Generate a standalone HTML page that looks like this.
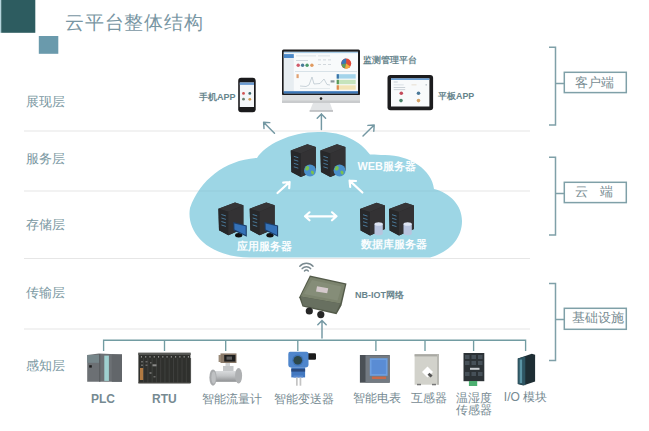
<!DOCTYPE html>
<html><head><meta charset="utf-8"><style>
html,body{margin:0;padding:0;background:#fff;width:649px;height:431px;overflow:hidden}
svg{position:absolute;left:0;top:0;font-family:"Liberation Sans",sans-serif}
</style></head><body>
<svg width="649" height="431" viewBox="0 0 649 431">
<defs>
  <marker id="ah" viewBox="0 0 10 10" refX="8" refY="5" markerWidth="5" markerHeight="5" orient="auto">
    <path d="M0,0 L10,5 L0,10" fill="none" stroke="#6f94a0" stroke-width="2"/>
  </marker>

  <g id="srv">
    <path d="M0,6.2 L16.6,0 L25,2.7 L25,26.3 L10,32.7 L0.6,27.8 Z" fill="#2a2a2c"/>
    <path d="M0,6.2 L16.6,0 L25,2.7 L10,9.3 Z" fill="#363638"/>
    <path d="M0,6.2 L10,9.3 L10,32.7 L0.6,27.8 Z" fill="#27282a"/>
    <path d="M10,9.3 L25,2.7 L25,26.3 L10,32.7 Z" fill="#333234"/>
    <g stroke="#4a7898" stroke-width="1">
      <line x1="3" y1="12" x2="7.5" y2="13.4"/>
      <line x1="3" y1="15.5" x2="7.5" y2="16.9"/>
      <line x1="3" y1="19" x2="7.5" y2="20.4"/>
      <line x1="3" y1="22.5" x2="7.5" y2="23.9"/>
    </g>
  </g>
</defs>
<!-- header squares -->
<rect x="0" y="0" width="1.2" height="32.8" fill="#b4d4dc"/><rect x="1.2" y="0" width="34.1" height="32.8" fill="#2d5c60"/>
<rect x="38.8" y="36" width="19.5" height="17.8" fill="#6a9aac"/>
<text x="65.4" y="28.9" font-size="19" letter-spacing="0.7" fill="#7896a3">云平台整体结构</text>

<!-- horizontal separators -->
<g stroke="#e6e6e6" stroke-width="1.2">
  <line x1="24" y1="131" x2="530" y2="131"/>
  <line x1="24" y1="191" x2="530" y2="191"/>
  <line x1="24" y1="258.5" x2="530" y2="258.5"/>
  <line x1="24" y1="329" x2="530" y2="329"/>
</g>

<!-- layer labels -->
<g font-size="12.8" fill="#7a98a2">
  <text x="26.4" y="106">展现层</text>
  <text x="26.4" y="163.3">服务层</text>
  <text x="26.4" y="229">存储层</text>
  <text x="26.4" y="297">传输层</text>
  <text x="26.4" y="370">感知层</text>
</g>

<!-- brackets -->
<g stroke="#7fa0a8" stroke-width="1.5" fill="none">
  <path d="M549,47.3 H555.5 V125 H549 M555.5,83.4 H564.3"/>
  <rect x="564.3" y="72.3" width="62" height="20.3"/>
  <path d="M549,157.3 H555.5 V235 H549 M555.5,193.4 H564.3"/>
  <rect x="564.3" y="182.3" width="62" height="20.3"/>
  <path d="M549,283.6 H555.5 V360.5 H549 M555.5,319.5 H564.3"/>
  <rect x="564.3" y="308.3" width="62" height="21"/>
</g>
<g font-size="12.7" fill="#788c92">
  <text x="575.3" y="86.6">客户端</text>
  <text x="574.8" y="196">云<tspan x="600.2">端</tspan></text>
  <text x="571.6" y="322">基础设施</text>
</g>

<!-- cloud -->
<clipPath id="cc"><path d="M250,257.5 L430,257.5 C450,252 462,238 462,221 C462,205 450,193 434,189 C432,170 410,155 385,155 C378,155 372,154 370,154.6 C360,140 340,131 318,132 C290,132 265,145 257,158 C225,160 200,180 190,208 C186,230 205,257 250,257.5 Z"/></clipPath>
<path fill="#9dd6e5" d="M250,257.5 L430,257.5 C450,252 462,238 462,221 C462,205 450,193 434,189 C432,170 410,155 385,155 C378,155 372,154 370,154.6 C360,140 340,131 318,132 C290,132 265,145 257,158 C225,160 200,180 190,208 C186,230 205,257 250,257.5 Z"/>


<!-- ============ top devices ============ -->
<!-- phone -->
<rect x="238.2" y="77.7" width="17.5" height="34.6" rx="3" fill="#1a1a1c"/>
<rect x="239.8" y="82.5" width="14.2" height="24.5" fill="#f4f6f8"/>
<rect x="239.8" y="82.5" width="14.2" height="2.4" fill="#6a9ad0"/>
<g><circle cx="243.5" cy="93.4" r="1.4" fill="#d05050"/><circle cx="249.8" cy="93.4" r="1.4" fill="#3d6a70"/><circle cx="243.5" cy="99.2" r="1.4" fill="#6a8070"/><circle cx="249.8" cy="99.3" r="1.4" fill="#d09a50"/></g>
<text x="199" y="100" font-size="9" font-weight="bold" fill="#66848c">手机APP</text>

<!-- iMac -->
<rect x="282" y="49.6" width="78" height="46" rx="1.5" fill="#1c1c1e"/>
<rect x="283.8" y="51.8" width="74.2" height="41.5" fill="#f8fafb"/>
<rect x="283.8" y="51.8" width="74.2" height="1.3" fill="#a8cce6"/>
<rect x="283.8" y="53.1" width="10" height="38.5" fill="#e7edf1"/>
<rect x="283.8" y="54.1" width="10" height="3.9" fill="#4a88c8"/>
<rect x="296" y="55.5" width="20" height="0.8" fill="#d4dce2"/>
<rect x="318" y="55.5" width="12" height="0.8" fill="#d4dce2"/>
<rect x="296" y="60" width="12" height="0.8" fill="#c8d0d8"/>
<g><circle cx="298.2" cy="65.3" r="1.7" fill="#d05a6a"/><circle cx="302.6" cy="65.3" r="1.7" fill="#4a7a98"/><circle cx="307.1" cy="65.3" r="1.7" fill="#4a9a6a"/><circle cx="311.9" cy="65.3" r="1.7" fill="#e09a60"/></g>
<g fill="#c8d0d6"><rect x="318" y="59.5" width="3" height="0.8"/><rect x="323" y="59.5" width="3" height="0.8"/><rect x="328" y="59.5" width="3" height="0.8"/><rect x="318" y="64" width="3" height="0.8"/><rect x="323" y="64" width="3" height="0.8"/><rect x="328" y="64" width="3" height="0.8"/></g>
<rect x="295" y="71.2" width="62" height="0.8" fill="#d0dde4"/>
<rect x="296.5" y="74.2" width="2.2" height="3.9" fill="#e0a070"/>
<path d="M300,86 L306,86.5 L309,85 L312,77 L314,84 L320,83.5 L324,79 L327,84.5 L330,85" fill="none" stroke="#b4c2ca" stroke-width="0.7"/>
<rect x="300" y="88" width="30" height="0.6" fill="#d8e0e4"/>
<circle cx="346.2" cy="63.6" r="5" fill="#e04a3a"/>
<path d="M346.2,63.6 L346.2,58.6 A5,5 0 0 0 341.3,64.6 Z" fill="#3a78b8"/>
<path d="M346.2,63.6 L341.3,64.6 A5,5 0 0 0 345,68.5 Z" fill="#5aa060"/>
<path d="M346.2,63.6 L345,68.5 A5,5 0 0 0 350.2,66.6 Z" fill="#f0b040"/>
<rect x="330.6" y="80.3" width="3.9" height="2.2" fill="#8a969c"/>
<rect x="336.7" y="74.2" width="19" height="4.4" fill="#a4d4ea"/>
<rect x="336.7" y="79.8" width="19" height="4.4" fill="#c6e4bc"/>
<rect x="336.7" y="85.3" width="19" height="4.4" fill="#f2e4b6"/>
<rect x="336.7" y="74.2" width="2.2" height="4.4" fill="#3a74a8"/>
<rect x="336.7" y="79.8" width="2.2" height="4.4" fill="#5a9a5a"/>
<rect x="336.7" y="85.3" width="2.2" height="4.4" fill="#e08a50"/>
<rect x="283.8" y="91.2" width="74.2" height="2.3" fill="#3a76b6"/>
<rect x="282" y="95" width="78" height="8" fill="#dcdedf"/>
<rect x="282" y="100.5" width="78" height="2.5" fill="#c9cbcd"/>
<circle cx="321" cy="98.6" r="1.3" fill="#222"/>
<path d="M313,103 L330,103 L333,111.2 L309.6,111.2 Z" fill="#e2e4e6"/>
<rect x="309.6" y="110.3" width="23.4" height="1.4" fill="#b4b6b8"/>
<text x="363.3" y="63" font-size="8.5" font-weight="bold" fill="#66848c">监测管理平台</text>

<!-- tablet -->
<rect x="387.5" y="75" width="45.6" height="35.2" rx="3" fill="#1c1c1e"/>
<rect x="391" y="78.4" width="38.4" height="28.1" fill="#f8fafb"/>
<rect x="391" y="78.4" width="38.4" height="1.5" fill="#5a96d2"/>
<rect x="393.7" y="81.6" width="4" height="0.8" fill="#b8c4cc"/>
<rect x="393.7" y="84.3" width="10" height="1.1" fill="#dde3e8"/>
<rect x="411.5" y="84.3" width="5" height="1.1" fill="#e8e0d4"/>
<rect x="425.5" y="84.3" width="1.5" height="1.1" fill="#b0b8c0"/>
<rect x="393.7" y="87.2" width="11.5" height="0.8" fill="#c0c8d0"/>
<rect x="393.7" y="89.3" width="11.5" height="0.8" fill="#c0c8d0"/>
<g><circle cx="401.3" cy="93.3" r="1.8" fill="#c44a5a"/><circle cx="418.5" cy="93.3" r="1.8" fill="#4a7898"/><circle cx="401" cy="100.6" r="1.8" fill="#4a826a"/><circle cx="418.5" cy="100.6" r="1.8" fill="#d6a468"/></g>
<text x="438" y="98.8" font-size="8.9" font-weight="bold" fill="#66848c">平板APP</text>

<!-- arrows top -->
<g stroke="#7498a3" stroke-width="1.45" fill="none" stroke-linecap="round" stroke-linejoin="round">
  <path d="M274.5,133.2 L263.6,122.2 M263.6,122.2 L264,128.5 M263.6,122.2 L269.8,122.6"/>
  <path d="M321.4,129.5 L321.4,114 M321.4,114 L317.2,118.3 M321.4,114 L325.6,118.3"/>
  <path d="M363,135.9 L374.2,125 M374.2,125 L367.9,125.4 M374.2,125 L373.8,131.2"/>
</g>


<line x1="185" y1="191" x2="470" y2="191" stroke="#000" stroke-opacity="0.045" stroke-width="1.2" clip-path="url(#cc)"/>
<!-- ============ cloud content ============ -->
<!-- web servers -->
<use href="#srv" x="290.8" y="144.3"/>
<use href="#srv" x="320.4" y="144.3"/>
<g>
  <circle cx="310" cy="170.4" r="6" fill="#4a90cc"/>
  <path d="M306,166.5 C308,165 310,167 309,169 C308,171 306,171 305,169.5 Z M311,171 C313,170 315,172 313.5,174.5 C312,175 310.5,173 311,171 Z" fill="#7ac050"/>
  <circle cx="339.6" cy="170.4" r="6" fill="#4a90cc"/>
  <path d="M335.6,166.5 C337.6,165 339.6,167 338.6,169 C337.6,171 335.6,171 334.6,169.5 Z M340.6,171 C342.6,170 344.6,172 343.1,174.5 C341.6,175 340.1,173 340.6,171 Z" fill="#7ac050"/>
</g>
<text x="357.5" y="170" font-size="10.9" font-weight="bold" fill="#fafdfe">WEB服务器</text>

<!-- app servers -->
<use href="#srv" x="218.4" y="202.5"/>
<use href="#srv" x="249.7" y="202.5"/>
<g>
  <ellipse cx="238.7" cy="235.2" rx="3.6" ry="2.2" fill="#111"/>
  <path d="M233.2,222 L246.8,225.4 L246.8,236.8 L233.5,230.4 Z" fill="#1c3e6a"/>
  <path d="M234.3,223.4 L245.7,226.3 L245.7,235 L234.5,229.5 Z" fill="#3572b8"/>
  <ellipse cx="270" cy="235.2" rx="3.6" ry="2.2" fill="#111"/>
  <path d="M264.5,222 L278.1,225.4 L278.1,236.8 L264.8,230.4 Z" fill="#1c3e6a"/>
  <path d="M265.6,223.4 L277,226.3 L277,235 L265.8,229.5 Z" fill="#3572b8"/>
</g>
<text x="237.2" y="249.6" font-size="10.6" font-weight="bold" fill="#fafdfe">应用服务器</text>

<!-- db servers -->
<use href="#srv" x="360" y="202.7"/>
<use href="#srv" x="389" y="202.7"/>
<g>
  <path d="M374.5,224 L374.5,233.5 A4.15,1.8 0 0 0 382.8,233.5 L382.8,224 Z" fill="#b8c4de"/>
  <ellipse cx="378.65" cy="224" rx="4.15" ry="1.8" fill="#dde4f2"/>
  <path d="M403.5,224 L403.5,233.5 A4.15,1.8 0 0 0 411.8,233.5 L411.8,224 Z" fill="#b8c4de"/>
  <ellipse cx="407.65" cy="224" rx="4.15" ry="1.8" fill="#dde4f2"/>
</g>
<text x="360.8" y="248.4" font-size="10.5" font-weight="bold" fill="#fafdfe">数据库服务器</text>

<!-- cloud arrows -->
<g stroke="#ffffff" stroke-width="2.2" fill="none" stroke-linecap="round" stroke-linejoin="round">
  <path d="M277.5,193 L289.6,182 M289.6,182 L283.2,182.6 M289.6,182 L289.2,188.2"/>
  <path d="M362.4,192.5 L349.6,180.6 M349.6,180.6 L350.2,187 M349.6,180.6 L356,181"/>
  <path d="M305,216.3 L336.5,216.3 M305,216.3 L309.5,212.3 M305,216.3 L309.5,220.3 M336.5,216.3 L332,212.3 M336.5,216.3 L332,220.3"/>
</g>

<!-- ============ transport layer ============ -->
<g stroke="#7a8a90" stroke-width="1.5" fill="none" stroke-linecap="round">
  <path d="M299.8,266.2 A9,9 0 0 1 313,266.2"/>
  <path d="M302.2,268.6 A5.8,5.8 0 0 1 310.6,268.6"/>
  <path d="M304.5,270.9 A2.6,2.6 0 0 1 308.3,270.9"/>
</g>
<g>
  <path d="M309.9,275.6 L346.5,283.6 L341.5,305.5 L336.5,314.2 L302.5,306.5 L299.2,297.2 Z" fill="#545b4a"/>
  <path d="M310.5,277 L345,284.5 L340.3,303.6 L300.6,296.4 Z" fill="#7c846e"/>
  <path d="M312,280 L341.5,286.5 L337.5,300.5 L304,294 Z" fill="#858d78"/>
  <path d="M300.6,296.4 L340.3,303.6 L336,312.6 L303.2,305.5 Z" fill="#687060"/>
  <path d="M317,286.3 L328.2,288.2 L327.2,293.3 L316,291.4 Z" fill="#d4c9cc"/>
  <circle cx="309.3" cy="311" r="3.6" fill="#262626"/>
  <circle cx="320.8" cy="314.6" r="3.6" fill="#262626"/>
</g>
<text x="355" y="298.3" font-size="9" font-weight="bold" fill="#68848c">NB-IOT网络</text>
<g stroke="#7498a3" stroke-width="1.45" fill="none" stroke-linecap="round" stroke-linejoin="round">
  <path d="M322,338 L322,320.5 M322,320.5 L317.8,324.8 M322,320.5 L326.2,324.8"/>
</g>


<!-- ============ perception layer ============ -->
<g stroke="#729ca2" stroke-width="1.35" fill="none">
  <path d="M103.6,351 V340.2 H525.6 V351"/>
  <path d="M164.5,340.2 V351 M225.7,340.2 V351 M297.8,340.2 V351 M375.9,340.2 V351 M425,340.2 V351 M473.6,340.2 V351"/>
</g>
<!-- PLC -->
<g>
  <path d="M87.2,355 L99,353.6 L122,354.5 L122,381.8 L87.2,381.8 Z" fill="#6c7074"/>
  <rect x="87.2" y="355" width="12" height="7.8" fill="#76868a"/>
  <rect x="99.3" y="354" width="1" height="27.8" fill="#55595c"/>
  <rect x="104.3" y="355.6" width="4.6" height="25.3" fill="#9fd0d0"/>
  <rect x="111.8" y="354.4" width="10.2" height="27.4" fill="#62666a"/>
  <rect x="89.2" y="365.2" width="2.6" height="2.4" fill="#1c1c1c"/>
</g>
<!-- RTU -->
<g>
  <rect x="138.4" y="353.5" width="52" height="29.8" fill="#2f302d"/>
  <rect x="138.2" y="352.6" width="52.5" height="2.3" fill="#585956"/>
  <g stroke="#41423f" stroke-width="0.9"><line x1="143.60" y1="358" x2="143.60" y2="383"/><line x1="147.87" y1="358" x2="147.87" y2="383"/><line x1="152.14" y1="358" x2="152.14" y2="383"/><line x1="156.41" y1="358" x2="156.41" y2="383"/><line x1="160.68" y1="358" x2="160.68" y2="383"/><line x1="164.95" y1="358" x2="164.95" y2="383"/><line x1="169.22" y1="358" x2="169.22" y2="383"/><line x1="173.49" y1="358" x2="173.49" y2="383"/><line x1="177.76" y1="358" x2="177.76" y2="383"/><line x1="182.03" y1="358" x2="182.03" y2="383"/><line x1="186.30" y1="358" x2="186.30" y2="383"/><line x1="190.57" y1="358" x2="190.57" y2="383"/></g>
  <g fill="#a8a8a6"><rect x="140.90" y="356.2" width="1.1" height="1.3"/><rect x="145.17" y="356.2" width="1.1" height="1.3"/><rect x="149.44" y="356.2" width="1.1" height="1.3"/><rect x="153.71" y="356.2" width="1.1" height="1.3"/><rect x="157.98" y="356.2" width="1.1" height="1.3"/><rect x="162.25" y="356.2" width="1.1" height="1.3"/><rect x="166.52" y="356.2" width="1.1" height="1.3"/><rect x="170.79" y="356.2" width="1.1" height="1.3"/><rect x="175.06" y="356.2" width="1.1" height="1.3"/><rect x="179.33" y="356.2" width="1.1" height="1.3"/><rect x="183.60" y="356.2" width="1.1" height="1.3"/><rect x="187.87" y="356.2" width="1.1" height="1.3"/></g>
  <g fill="#6a6a68"><rect x="141" y="361" width="2" height="1.5"/><rect x="145.5" y="361" width="2" height="1.5"/><rect x="141" y="364.5" width="2" height="1.5"/><rect x="145.5" y="364.5" width="2" height="1.5"/><rect x="150" y="362" width="1.5" height="1.5"/><rect x="149.5" y="372" width="2" height="2"/><rect x="153.5" y="376" width="2" height="1.5"/></g>
  <rect x="152.5" y="364.3" width="4" height="2" fill="#8c8c8a"/>
  <rect x="140" y="368" width="3.2" height="12" fill="#b27a42"/>
  <rect x="138.4" y="382.3" width="52" height="1" fill="#4a4b48"/>
</g>
<!-- flowmeter -->
<defs>
  <linearGradient id="pipe" x1="0" y1="0" x2="0" y2="1">
    <stop offset="0" stop-color="#d8dadc"/><stop offset="0.45" stop-color="#c2c4c6"/><stop offset="1" stop-color="#8e9092"/>
  </linearGradient>
</defs>
<g>
  <rect x="220.5" y="353.4" width="16" height="9.6" fill="#8a7a6a"/>
  <rect x="224.2" y="355" width="11.2" height="6.6" fill="#1e1e1e"/>
  <rect x="226.5" y="356.5" width="5.5" height="3.2" fill="#5e5e5e"/>
  <rect x="218.6" y="355" width="2.4" height="7" fill="#9a8a78"/>
  <rect x="225.5" y="363" width="4.5" height="3.5" fill="#d0d2d4"/>
  <rect x="223" y="366" width="10.5" height="5.5" fill="#c4c6c8"/>
  <rect x="214.5" y="371" width="23.5" height="10.8" fill="url(#pipe)"/>
  <ellipse cx="213" cy="377.6" rx="3.6" ry="8.1" fill="#a8aaac"/>
  <ellipse cx="213.6" cy="377.6" rx="2.2" ry="6.2" fill="#bfc1c3"/>
  <ellipse cx="238.6" cy="375.8" rx="3.5" ry="7.8" fill="#aeb0b2"/>
</g>
<!-- transmitter -->
<g>
  <rect x="307.5" y="353.2" width="8.5" height="6.6" rx="1.2" fill="#1c1c1c"/>
  <path d="M290,351.8 H306.5 Q308.5,351.8 308.5,354 V364.5 Q308.5,367.4 305.5,367.4 H291 Q288.3,367.4 288.3,364.5 V354 Q288.3,351.8 290,351.8 Z" fill="#4f86cc"/>
  <circle cx="297.8" cy="360.2" r="5.6" fill="#3f74b8"/>
  <circle cx="297.8" cy="360.2" r="4.3" fill="#2d484a"/>
  <rect x="291.3" y="367.4" width="13.8" height="10" fill="#4378c0"/>
  <rect x="291.3" y="368.8" width="13.8" height="2.8" fill="#2a4a7e"/>
  <rect x="293.5" y="375.5" width="9.5" height="2" fill="#5a8ad0"/>
  <rect x="296" y="377.4" width="1.7" height="8.3" fill="#c4c4c4"/>
  <rect x="299.6" y="377.4" width="1.7" height="8.3" fill="#c4c4c4"/>
</g>
<!-- power meter -->
<g>
  <rect x="359.9" y="355" width="29.8" height="27.7" fill="#4a5056"/>
  <rect x="365.5" y="355.3" width="24.2" height="27.2" fill="#737a82"/>
  <rect x="369.8" y="358.2" width="17.8" height="17.6" fill="#6c9ee0"/>
  <rect x="371.5" y="360" width="14.4" height="14" fill="#5a8cd4"/>
  <rect x="372" y="376.6" width="14" height="2.4" fill="#c86a4a"/>
</g>
<!-- CT -->
<g>
  <rect x="414.6" y="354.2" width="24.3" height="30.5" fill="#d2d2cb"/>
  <rect x="414.6" y="354.2" width="24.3" height="2.2" fill="#a9a9a3"/>
  <rect x="437" y="354.2" width="1.9" height="30.5" fill="#b8b8b2"/>
  <path d="M427.5,366.5 L433,372 L427.5,377.5 L422,372 Z" fill="#ffffff"/>
  <path d="M429.5,372.8 L432.6,375.6 L430.6,377.6 L427.5,374.8 Z" fill="#555"/>
  <rect x="417" y="383.8" width="4" height="1.5" fill="#777"/>
  <rect x="432" y="383.8" width="4" height="1.5" fill="#777"/>
</g>
<!-- temp/humidity sensor -->
<g>
  <rect x="463.5" y="353" width="20.8" height="28.2" fill="#2c3236"/>
  <g fill="#465058">
    <rect x="465" y="355" width="4.5" height="4"/><rect x="471.5" y="355" width="4.5" height="4"/><rect x="478" y="355" width="4.5" height="4"/>
    <rect x="465" y="361" width="4.5" height="4"/><rect x="471.5" y="361" width="4.5" height="4"/><rect x="478" y="361" width="4.5" height="4"/>
    <rect x="465" y="372" width="4.5" height="4"/><rect x="471.5" y="372" width="4.5" height="4"/><rect x="478" y="372" width="4.5" height="4"/>
  </g>
  <rect x="470" y="367.8" width="9.5" height="2" fill="#c8ccd0"/>
  <rect x="468.9" y="381" width="8.3" height="5" fill="#4caf70"/>
</g>
<!-- IO module -->
<g>
  <path d="M517.8,358.5 L531.8,353.7 L535.1,354.8 L535.1,381.5 L523.3,385.5 L517.8,384 Z" fill="#1e2e34"/>
  <path d="M517.8,358.5 L525.3,356.5 L525.3,385.3 L517.8,384 Z" fill="#2e5562"/>
  <rect x="519.7" y="359.5" width="2.4" height="23.5" fill="#5a94a4"/>
</g>
<!-- labels -->
<g font-size="12" fill="#768a92">
  <text x="91" y="402.5" font-weight="bold">PLC</text>
  <text x="152" y="403" font-weight="bold">RTU</text>
  <text x="201.6" y="403">智能流量计</text>
  <text x="273.5" y="403">智能变送器</text>
  <text x="352.8" y="402">智能电表</text>
  <text x="410.5" y="402">互感器</text>
  <text x="456.4" y="402">温湿度</text>
  <text x="456.4" y="414">传感器</text>
  <text x="503.8" y="400.6">I/O 模块</text>
</g>

</svg>
</body></html>
